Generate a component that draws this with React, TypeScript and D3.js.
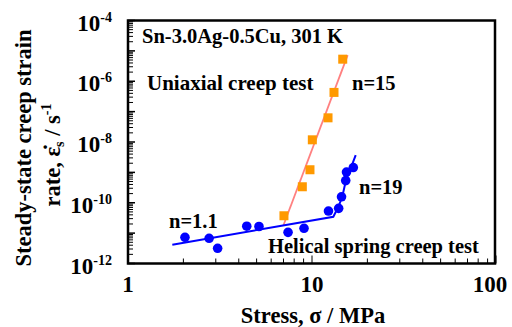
import * as d3 from 'd3';

// values
const uniaxialStress = [14.69, 13.17, 12.22, 10.04, 9.75, 8.86, 7.04];
const uniaxialRate = [5.33e-6, 4.29e-7, 6.25e-8, 1.18e-8, 1.22e-9, 3.36e-10, 3.73e-11];
const uniaxialFitStress = [6.98, 15.63];
const uniaxialFitRate = [1.75e-11, 7.24e-6];

const helicalStress = [2.04, 2.76, 3.07, 4.42, 5.15, 7.41, 9.05, 12.29, 13.96, 14.47, 15.25, 15.4, 16.77];
const helicalRate = [7.28e-12, 6.75e-12, 3.16e-12, 1.69e-11, 1.65e-11, 1.06e-11, 1.44e-11, 5.33e-11, 6.55e-11, 1.57e-10, 5.37e-10, 1.02e-9, 1.44e-9];
const helicalFitStress = [1.741, 13.06, 13.9, 14.61, 15.3, 16.09, 17.28];
const helicalFitRate = [4.12e-12, 3.46e-11, 7.38e-11, 1.57e-10, 5.58e-10, 1.19e-9, 3.71e-9];

const xTicks = [1, 10, 100];
const yTickExp = [-4, -6, -8, -10, -12];

const FONT = "'Liberation Serif', 'Times New Roman', serif";

export default function App() {
  const width = 512, height = 327;
  const x = d3.scaleLog().domain([1, 100]).range([128, 496]);
  const y = d3.scaleLog().domain([1e-12, 1e-4]).range([263.5, 20.5]);

  const line = d3.line<[number, number]>().x(d => x(d[0])).y(d => y(d[1]));
  const uniFit = uniaxialFitStress.map((s, i) => [s, uniaxialFitRate[i]] as [number, number]);
  const helFit = helicalFitStress.map((s, i) => [s, helicalFitRate[i]] as [number, number]);

  const xMinor: number[] = [];
  for (const d of [1, 10]) for (let k = 2; k <= 9; k++) xMinor.push(d * k);
  const yMajor: number[] = [];
  const yMinor: number[] = [];
  for (let e = -12; e < -4; e++) {
    yMajor.push(Math.pow(10, e));
    for (let k = 2; k <= 9; k++) yMinor.push(k * Math.pow(10, e));
  }
  yMajor.push(1e-4);

  const [x0, x1] = x.range();
  const [y0, y1] = y.range();

  return (
    <svg width={width} height={height}
      style={{ position: 'absolute', left: 0, top: 0, background: '#fff', fontFamily: FONT, fontWeight: 'bold' }}>
      {/* ticks */}
      <g stroke="#000" strokeWidth={1}>
        {xMinor.map(v => <line key={'xm' + v} x1={x(v)} x2={x(v)} y1={y0} y2={y0 - 5} />)}
        {xTicks.map(v => <line key={'xM' + v} x1={x(v)} x2={x(v)} y1={y0} y2={y0 - 8} />)}
        {yMinor.map(v => <line key={'ym' + v} x1={x0} x2={x0 + 5} y1={y(v)} y2={y(v)} />)}
        {yMajor.map(v => <line key={'yM' + v} x1={x0} x2={x0 + 7} y1={y(v)} y2={y(v)} strokeWidth={1.5} />)}
      </g>
      <rect x={x0} y={y1} width={x1 - x0 - 1} height={y0 - y1} fill="none" stroke="#000" strokeWidth={2.5} />

      {/* fit lines */}
      <path d={line(uniFit) ?? ''} fill="none" stroke="#ff8080" strokeWidth={1.8} />
      <path d={line(helFit) ?? ''} fill="none" stroke="#0000ff" strokeWidth={2} />

      {/* markers */}
      {uniaxialStress.map((s, i) => (
        <rect key={'u' + i} x={x(s) - 4.5} y={y(uniaxialRate[i]) - 4.5} width={9} height={9} fill="#ff9900" />
      ))}
      {helicalStress.map((s, i) => (
        <circle key={'h' + i} cx={x(s)} cy={y(helicalRate[i])} r={4.8} fill="#0000ff" />
      ))}

      {/* tick labels */}
      {xTicks.map(v => (
        <text key={'xl' + v} x={x(v) - (v === 100 ? 6 : 0)} y={292} textAnchor="middle" fontSize={23}>{v}</text>
      ))}
      {yTickExp.map(e => (
        <text key={'yl' + e} x={112} y={y(Math.pow(10, e)) + 10} textAnchor="end" fontSize={23}>
          10<tspan fontSize={14} dy={-9}>{e}</tspan>
        </text>
      ))}

      {/* axis titles */}
      <text x={313} y={323} textAnchor="middle" fontSize={22.5}>Stress, σ / MPa</text>
      <g transform="translate(31,148) rotate(-90)">
        <text x={0} y={0} textAnchor="middle" fontSize={22.5}>Steady-state creep strain</text>
      </g>
      <g transform="translate(60,155) rotate(-90)">
        <text x={0} y={0} textAnchor="middle" fontSize={22.5}>
          rate, ε̇<tspan fontSize={14} dy={4}>s</tspan><tspan dy={-4}> / s</tspan><tspan fontSize={14} dy={-9}>-1</tspan>
        </text>
      </g>

      {/* annotations */}
      <text x={142} y={43} fontSize={20.5}>Sn-3.0Ag-0.5Cu, 301 K</text>
      <text x={147} y={90} fontSize={21}>Uniaxial creep test</text>
      <text x={352} y={90} fontSize={20.5}>n=15</text>
      <text x={359} y={194} fontSize={20.5}>n=19</text>
      <text x={169} y={228} fontSize={20.5}>n=1.1</text>
      <text x={268} y={253} fontSize={20.5}>Helical spring creep test</text>
    </svg>
  );
}
